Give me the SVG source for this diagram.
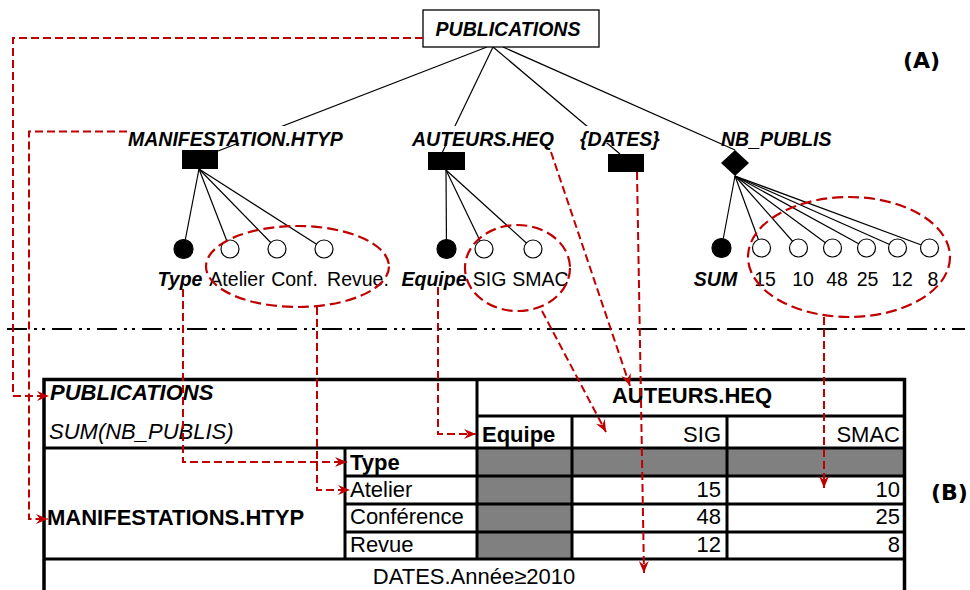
<svg xmlns="http://www.w3.org/2000/svg" width="970" height="590" viewBox="0 0 970 590">
<style>
  .t { font-family: "Liberation Sans", Arial, sans-serif; fill: #000; }
  .bi { font-weight: bold; font-style: italic; }
  .b { font-weight: bold; }
  .i { font-style: italic; }
  .tree { font-size: 19.5px; }
  .tab { font-size: 22px; }
  .lbl { font-family: "DejaVu Sans", sans-serif; font-weight: bold; font-size: 22px; }
  .edge { stroke: #000; stroke-width: 1.2; fill: none; }
  .red { stroke: #C00000; stroke-width: 2.2; stroke-dasharray: 11 5; fill: none; }
  .redarr { stroke: #C00000; stroke-width: 2; stroke-dasharray: 8 4; fill: none; marker-end: url(#ah); }
  .open { fill: #fff; stroke: #000; stroke-width: 1.2; }
  .full { fill: #000; stroke: #000; stroke-width: 1.2; }
  .grid { stroke: #000; stroke-width: 3; fill: none; }
  .grey { fill: #808080; }
</style>
<defs>
  <marker id="ah" markerUnits="userSpaceOnUse" markerWidth="13" markerHeight="11" refX="12" refY="5" orient="auto">
    <path d="M0,0 L12,5 L0,10 L4,5 z" fill="#C00000"/>
  </marker>
</defs>
<rect width="970" height="590" fill="#fff"/>

<!-- tree edges -->
<g id="tree-edges">
  <line class="edge" x1="487" y1="47" x2="218" y2="151"/>
  <line class="edge" x1="493" y1="47" x2="442" y2="153"/>
  <line class="edge" x1="493" y1="47" x2="620" y2="154"/>
  <line class="edge" x1="503" y1="47" x2="735" y2="150"/>
  <line class="edge" x1="199" y1="169" x2="183.5" y2="249"/>
  <line class="edge" x1="199" y1="169" x2="230" y2="249"/>
  <line class="edge" x1="199" y1="169" x2="277" y2="249"/>
  <line class="edge" x1="199" y1="169" x2="324" y2="249"/>
  <line class="edge" x1="446" y1="170" x2="446.5" y2="249"/>
  <line class="edge" x1="446" y1="170" x2="484" y2="249"/>
  <line class="edge" x1="446" y1="170" x2="533" y2="249"/>
  <line class="edge" x1="735" y1="176" x2="721.5" y2="248"/>
  <line class="edge" x1="735" y1="176" x2="761.5" y2="248"/>
  <line class="edge" x1="735" y1="176" x2="798.5" y2="248"/>
  <line class="edge" x1="735" y1="176" x2="832.5" y2="248"/>
  <line class="edge" x1="735" y1="176" x2="866.5" y2="248"/>
  <line class="edge" x1="735" y1="176" x2="897.5" y2="248"/>
  <line class="edge" x1="735" y1="176" x2="929.5" y2="248"/>
</g>

<!-- root -->
<g id="publications">
  <rect x="423" y="10" width="176" height="37" fill="#fff" stroke="#000" stroke-width="1.3"/>
  <text class="t bi tree" x="508" y="36" text-anchor="middle">PUBLICATIONS</text>
</g>

<g id="manifestation">
  <rect x="125" y="126" width="226" height="17" fill="#fff"/>
  <text class="t bi tree" x="128" y="146">MANIFESTATION.HTYP</text>
  <rect x="182" y="150" width="36" height="19" fill="#000"/>
</g>
<g id="auteurs">
  <rect x="409" y="126" width="148" height="17" fill="#fff"/>
  <text class="t bi tree" x="412" y="146">AUTEURS.HEQ</text>
  <rect x="428" y="152" width="37" height="18" fill="#000"/>
</g>
<g id="dates">
  <rect x="577" y="126" width="86" height="17" fill="#fff"/>
  <text class="t bi tree" x="580" y="146">{DATES}</text>
  <rect x="608" y="154" width="36" height="18" fill="#000"/>
</g>
<g id="nb_publis">
  <text class="t bi tree" x="721" y="146">NB_PUBLIS</text>
  <path d="M735,150 L749,163 L735,176 L721,163 z" fill="#000"/>
</g>

<!-- leaves -->
<g id="leaf-type"><circle class="full" cx="183.5" cy="249" r="9.5"/><text class="t bi tree" x="180" y="286" text-anchor="middle">Type</text></g>
<g id="leaf-atelier"><circle class="open" cx="230" cy="249" r="9"/><text class="t tree" x="237" y="286" text-anchor="middle">Atelier</text></g>
<g id="leaf-conf"><circle class="open" cx="277" cy="249" r="9"/><text class="t tree" x="294.5" y="286" text-anchor="middle">Conf.</text></g>
<g id="leaf-revue"><circle class="open" cx="324" cy="249" r="9"/><text class="t tree" x="358" y="286" text-anchor="middle">Revue.</text></g>
<g id="leaf-equipe"><circle class="full" cx="446.5" cy="249" r="9.5"/><text class="t bi tree" x="434" y="286" text-anchor="middle">Equipe</text></g>
<g id="leaf-sig"><circle class="open" cx="484" cy="249" r="9"/><text class="t tree" x="489.5" y="286" text-anchor="middle">SIG</text></g>
<g id="leaf-smac"><circle class="open" cx="533" cy="249" r="9"/><text class="t tree" x="540.5" y="286" text-anchor="middle">SMAC</text></g>
<g id="leaf-sum"><circle class="full" cx="721.5" cy="248" r="9.5"/><text class="t bi tree" x="715.5" y="286" text-anchor="middle">SUM</text></g>
<g id="leaf-15"><circle class="open" cx="761.5" cy="248" r="9"/><text class="t tree" x="765" y="286" text-anchor="middle">15</text></g>
<g id="leaf-10"><circle class="open" cx="798.5" cy="248" r="9"/><text class="t tree" x="803" y="286" text-anchor="middle">10</text></g>
<g id="leaf-48"><circle class="open" cx="832.5" cy="248" r="9"/><text class="t tree" x="837" y="286" text-anchor="middle">48</text></g>
<g id="leaf-25"><circle class="open" cx="866.5" cy="248" r="9"/><text class="t tree" x="867.5" y="286" text-anchor="middle">25</text></g>
<g id="leaf-12"><circle class="open" cx="897.5" cy="248" r="9"/><text class="t tree" x="902" y="286" text-anchor="middle">12</text></g>
<g id="leaf-8"><circle class="open" cx="929.5" cy="248" r="9"/><text class="t tree" x="933" y="286" text-anchor="middle">8</text></g>

<text class="lbl" x="903" y="68">(A)</text>
<text class="lbl" x="931" y="500">(B)</text>

<!-- separator -->
<line x1="7" y1="329" x2="965" y2="329" stroke="#000" stroke-width="2" stroke-dasharray="20 7 3 5 3 7"/>

<!-- table -->
<g id="table">
  <rect class="grey" x="477" y="448" width="95" height="111"/>
  <rect class="grey" x="572" y="448" width="333" height="28"/>
  <line class="grid" x1="477" y1="379" x2="477" y2="559"/>
  <line class="grid" x1="477" y1="416" x2="905" y2="416"/>
  <line class="grid" x1="572" y1="416" x2="572" y2="559"/>
  <line class="grid" x1="727" y1="416" x2="727" y2="559"/>
  <line class="grid" x1="43" y1="448" x2="905" y2="448"/>
  <line class="grid" x1="345" y1="448" x2="345" y2="559"/>
  <line class="grid" x1="345" y1="476" x2="905" y2="476"/>
  <line class="grid" x1="345" y1="504" x2="905" y2="504"/>
  <line class="grid" x1="345" y1="532" x2="905" y2="532"/>
  <line class="grid" x1="43" y1="559" x2="905" y2="559"/>
  <path d="M44,600 V379.5 H904.5 V600" fill="none" stroke="#000" stroke-width="3.5"/>
  <text class="t bi tab" x="50" y="400">PUBLICATIONS</text>
  <text class="t i tab" x="49" y="439">SUM(NB_PUBLIS)</text>
  <text class="t b tab" x="692" y="403" text-anchor="middle">AUTEURS.HEQ</text>
  <text class="t b tab" x="482" y="442">Equipe</text>
  <text class="t tab" x="721" y="442" text-anchor="end">SIG</text>
  <text class="t tab" x="900" y="442" text-anchor="end">SMAC</text>
  <text class="t b tab" x="47" y="525">MANIFESTATIONS.HTYP</text>
  <text class="t b tab" x="350" y="470">Type</text>
  <text class="t tab" x="350" y="497">Atelier</text>
  <text class="t tab" x="350" y="524">Conférence</text>
  <text class="t tab" x="350" y="552">Revue</text>
  <text class="t tab" x="721" y="497" text-anchor="end">15</text>
  <text class="t tab" x="900" y="497" text-anchor="end">10</text>
  <text class="t tab" x="721" y="524" text-anchor="end">48</text>
  <text class="t tab" x="900" y="524" text-anchor="end">25</text>
  <text class="t tab" x="721" y="552" text-anchor="end">12</text>
  <text class="t tab" x="900" y="552" text-anchor="end">8</text>
  <text class="t tab" x="474" y="584" text-anchor="middle">DATES.Année≥2010</text>
</g>

<!-- red mapping connectors -->
<g id="connectors">
  <ellipse class="red" cx="297.5" cy="266.5" rx="91.5" ry="40.5"/>
  <ellipse class="red" cx="517.5" cy="268" rx="52.5" ry="43"/>
  <ellipse class="red" cx="849" cy="257" rx="101" ry="60"/>
  <path class="redarr" d="M423,38 H13 V396 H49"/>
  <path class="redarr" d="M127,131.5 H29 V519 H48"/>
  <path class="redarr" d="M183,289 V462 H347"/>
  <path class="redarr" d="M317,307 V490 H350"/>
  <path class="redarr" d="M438,287 V434 H476"/>
  <path class="redarr" d="M542,311 L606,432"/>
  <path class="redarr" d="M551,152 L630,386"/>
  <path class="redarr" d="M637,172 L644,573"/>
  <path class="redarr" d="M824,317 V488"/>
</g>
</svg>
